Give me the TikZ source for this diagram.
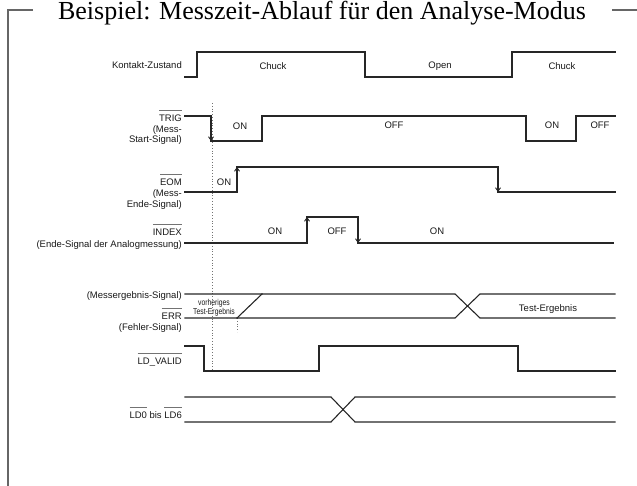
\documentclass[tikz,border=0pt]{standalone}
\usepackage{fontspec}
\setmainfont{Liberation Serif}
\newfontfamily\labfont{Liberation Sans}
\newfontfamily\narrowfont[FakeStretch=0.8]{Liberation Sans}
\usetikzlibrary{arrows.meta}
\newcommand\ovl[1]{\setbox0\hbox{#1}\rlap{\raisebox{11pt}{\color{black!55}\rule{\wd0}{0.7pt}}}\box0\relax}
\begin{document}
\begin{tikzpicture}[x=1pt,y=-1pt,
  sig/.style={line width=1.1pt, draw=black!85, line join=miter, line cap=rect},
  tipd/.style={line width=1.1pt, draw=black!85, -{Straight Barb[length=3.5pt,width=5pt,line width=0.9pt]}},
  lbl/.style={font=\labfont\fontsize{9.5}{11}\selectfont, inner sep=0pt, text=black!90},
  small/.style={font=\narrowfont\fontsize{8.5}{9}\selectfont, inner sep=0pt, text=black!90},
  frame/.style={line width=1.2pt, draw=black!60},
  guide/.style={dotted, line width=0.8pt, draw=black!55}]
\useasboundingbox (0,0) rectangle (637,486);
% frame and title
\draw[frame] (33,10) -- (8,10) -- (8,486);
\draw[frame] (612,10) -- (637,10);
\node[anchor=base, inner sep=0pt, font=\fontsize{26}{30}\selectfont] (title) at (322,19.5) {Beispiel: Messzeit-Ablauf für den Analyse-Modus};
% guides
\draw[guide] (212,103) -- (212,371);
\draw[guide] (237,318) -- (237,332);
% Kontakt-Zustand
\draw[sig] (185,77) -- (197,77) -- (197,52) -- (365,52) -- (365,77) -- (512,77) -- (512,52) -- (615,52);
\node[lbl, anchor=base east] (lk) at (182,68.5) {Kontakt-Zustand};
\node[lbl] (k1) at (273,66) {Chuck};
\node[lbl] (k2) at (440,66) {Open};
\node[lbl] (k3) at (562,66) {Chuck};
% TRIG
\draw[sig] (185,116) -- (211,116) -- (211,141) -- (262,141) -- (262,116) -- (526,116) -- (526,141) -- (576,141) -- (576,116) -- (615,116);
\draw[tipd] (211,116) -- (211,141);
\node[lbl, anchor=base east] (lt1) at (182,121.5) {\ovl{TRIG}};
\node[lbl, anchor=base east] (lt2) at (182,132.5) {(Mess-};
\node[lbl, anchor=base east] (lt3) at (182,143) {Start-Signal)};
\node[lbl] (t1) at (240,126) {ON};
\node[lbl] (t2) at (394,125) {OFF};
\node[lbl] (t3) at (552,125) {ON};
\node[lbl] (t4) at (600,125) {OFF};
% EOM
\draw[sig] (185,192) -- (237,192) -- (237,167) -- (498,167) -- (498,192) -- (615,192);
\draw[tipd] (237,192) -- (237,167);
\draw[tipd] (498,167) -- (498,192);
\node[lbl, anchor=base east] (le1) at (182,186) {\ovl{EOM}};
\node[lbl, anchor=base east] (le2) at (182,197) {(Mess-};
\node[lbl, anchor=base east] (le3) at (182,207.5) {Ende-Signal)};
\node[lbl] (e1) at (224,182) {ON};
% INDEX
\draw[sig] (185,243) -- (307,243) -- (307,217) -- (358,217) -- (358,243) -- (613,243);
\draw[tipd] (307,243) -- (307,217);
\draw[tipd] (358,217) -- (358,243);
\node[lbl, anchor=base east] (li1) at (182,236) {\ovl{INDEX}};
\node[lbl, anchor=base east] (li2) at (182,247.5) {(Ende-Signal der Analogmessung)};
\node[lbl] (i1) at (275,231) {ON};
\node[lbl] (i2) at (337,231) {OFF};
\node[lbl] (i3) at (437,231) {ON};
% Messergebnis / ERR
\draw[sig] (185,294) -- (455,294) -- (480,318) -- (615,318);
\draw[sig] (185,318) -- (455,318) -- (480,294) -- (615,294);
\draw[sig] (237,318) -- (262,294);
\node[lbl, anchor=base east] (lm1) at (182,298.5) {(Messergebnis-Signal)};
\node[lbl, anchor=base east] (lm2) at (182,319.5) {\ovl{ERR}};
\node[lbl, anchor=base east] (lm3) at (182,330.5) {(Fehler-Signal)};
\node[small] (m1) at (214,303) {vorheriges};
\node[small] (m2) at (214,312.5) {Test-Ergebnis};
\node[lbl] (m3) at (548,309) {Test-Ergebnis};
% LD_VALID
\draw[sig] (185,346) -- (204,346) -- (204,371) -- (319,371) -- (319,346) -- (518,346) -- (518,371) -- (615,371);
\node[lbl, anchor=base east] (lv) at (182,364.5) {\ovl{LD\_VALID}};
% LD0 bis LD6
\draw[sig] (185,397) -- (331,397) -- (355,422) -- (615,422);
\draw[sig] (185,422) -- (331,422) -- (355,397) -- (615,397);
\node[lbl, anchor=base east] (ld) at (182,418.5) {\ovl{LD0} bis \ovl{LD6}};
\end{tikzpicture}
\end{document}
